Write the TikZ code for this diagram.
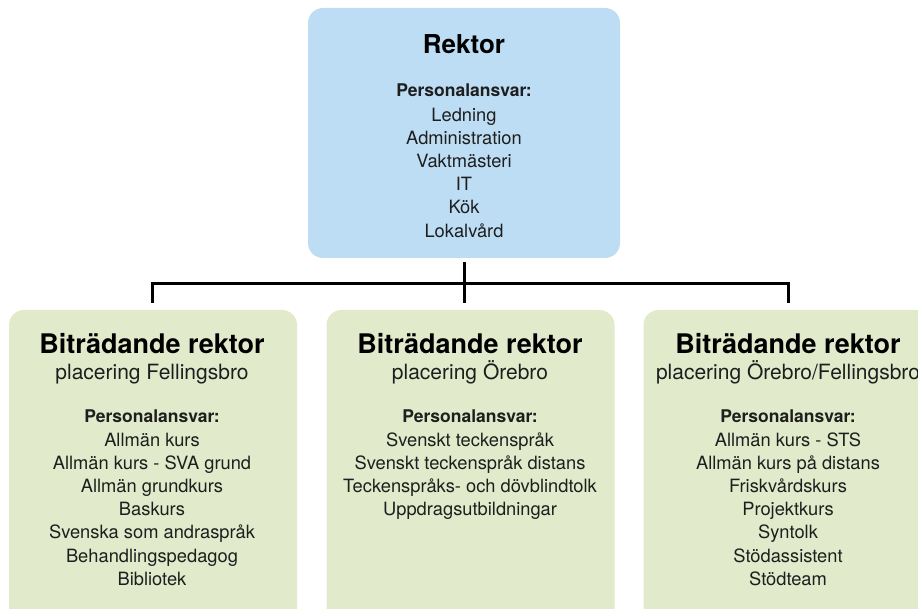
\documentclass[tikz,border=0pt]{standalone}
\usepackage{fontspec}
\setmainfont{TeX Gyre Heros}
\usetikzlibrary{positioning}

\definecolor{rektorbla}{HTML}{BDDDF5}
\definecolor{bitrgron}{HTML}{E1EACB}
\definecolor{textgra}{HTML}{1E1E1E}

\tikzset{
  ruta/.style={rectangle, rounded corners=15pt, inner sep=0pt},
  titel/.style={anchor=base, inner sep=0pt, font=\fontsize{27}{30}\selectfont\bfseries},
  underrubrik/.style={anchor=base, inner sep=0pt, text=textgra, font=\fontsize{21}{24}\selectfont},
  ansvar/.style={anchor=base, inner sep=0pt, text=textgra, font=\fontsize{17.5}{23}\selectfont\bfseries},
  rad/.style={anchor=base, inner sep=0pt, text=textgra, font=\fontsize{18.3}{23}\selectfont},
  linje/.style={line width=3pt, line cap=rect}
}

\begin{document}
\begin{tikzpicture}[x=1pt, y=-1pt]
  \useasboundingbox (0,0) rectangle (918,609);
  \clip (0,0) rectangle (918,609);

  % rutorna
  \node[ruta, fill=rektorbla, minimum width=312pt, minimum height=250pt] (rektor) at (464,133) {};
  \node[ruta, fill=bitrgron, minimum width=288pt, minimum height=330pt] (vanster) at (153,475) {};
  \node[ruta, fill=bitrgron, minimum width=288pt, minimum height=330pt] (mitten) at (470.5,475) {};
  \node[ruta, fill=bitrgron, minimum width=288pt, minimum height=330pt] (hoger) at (787.5,475) {};

  % rektor
  \node[titel, font=\fontsize{26}{30}\selectfont\bfseries] (rektortitel) at (464,54) {Rektor};
  \node[ansvar] (rektoransvar) at (464,97) {Personalansvar:};
  \foreach \t [count=\i] in {Ledning, Administration, Vaktmästeri, IT, Kök, Lokalvård}
    \node[rad] (rektor-\i) at (464,98.5+23.1*\i) {\t};

  % bitradande rektor, vanster
  \node[titel] (vtitel) at (152,354) {Biträdande rektor};
  \node[underrubrik] (vplats) at (152,380) {placering Fellingsbro};
  \node[ansvar] (vansvar) at (152,422.5) {Personalansvar:};
  \foreach \t [count=\i] in {Allmän kurs, Allmän kurs - SVA grund, Allmän grundkurs, Baskurs,
      Svenska som andraspråk, Behandlingspedagog, Bibliotek}
    \node[rad] (v-\i) at (152,422.8+23.2*\i) {\t};

  % bitradande rektor, mitten
  \node[titel] (mtitel) at (470,354) {Biträdande rektor};
  \node[underrubrik] (mplats) at (470,380) {placering Örebro};
  \node[ansvar] (mansvar) at (470,422.5) {Personalansvar:};
  \foreach \t [count=\i] in {Svenskt teckenspråk, Svenskt teckenspråk distans,
      Teckenspråks- och dövblindtolk, Uppdragsutbildningar}
    \node[rad] (m-\i) at (470,422.8+23.2*\i) {\t};

  % bitradande rektor, hoger
  \node[titel] (htitel) at (788,354) {Biträdande rektor};
  \node[underrubrik] (hplats) at (788,380) {placering Örebro/Fellingsbro};
  \node[ansvar] (hansvar) at (788,422.5) {Personalansvar:};
  \foreach \t [count=\i] in {Allmän kurs - STS, Allmän kurs på distans, Friskvårdskurs,
      Projektkurs, Syntolk, Stödassistent, Stödteam}
    \node[rad] (h-\i) at (788,422.8+23.2*\i) {\t};

  % linjer
  \coordinate (vgren) at (152,284);
  \coordinate (hgren) at (788,284);
  \draw[linje] (vgren) -- (hgren);
  \draw[linje, shorten <=5pt, shorten >=8pt] (rektor.south) -- (rektor.south |- mitten.north);
  \draw[linje, shorten >=8pt] (vgren) -- (vgren |- vanster.north);
  \draw[linje, shorten >=8pt] (hgren) -- (hgren |- hoger.north);
\end{tikzpicture}
\end{document}
